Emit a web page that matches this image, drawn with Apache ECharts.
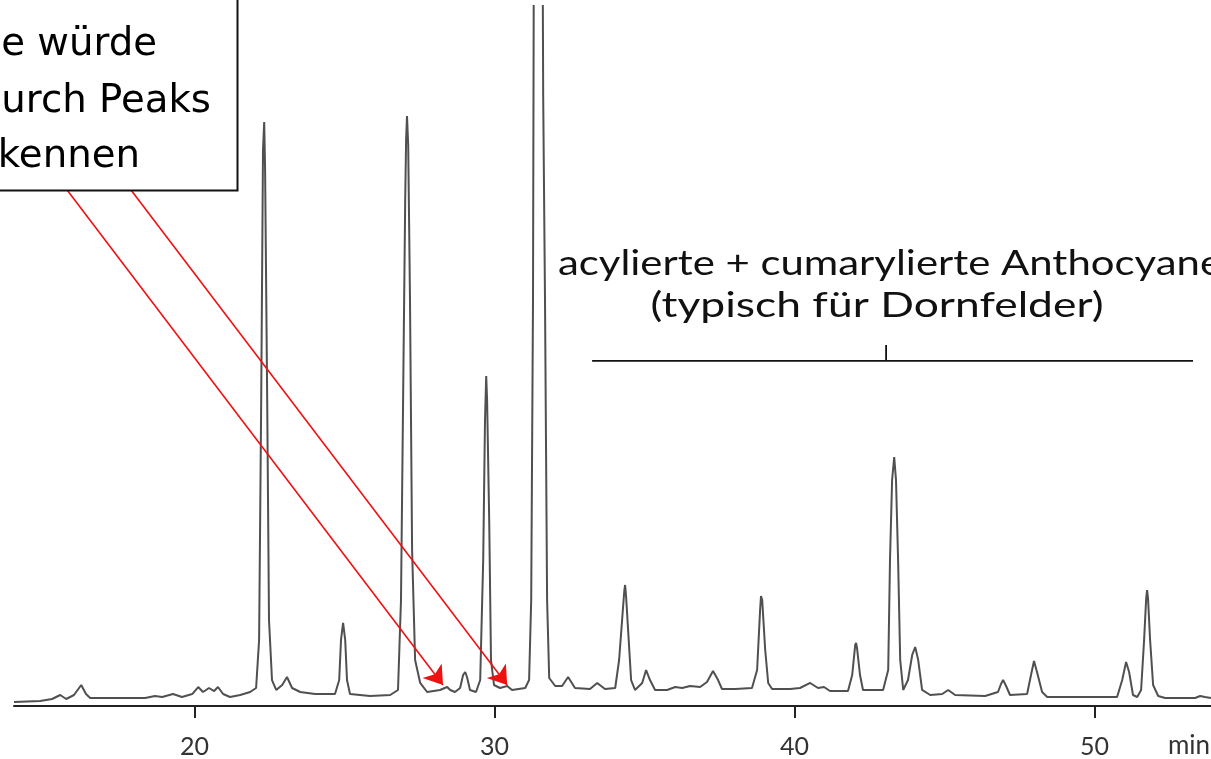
<!DOCTYPE html>
<html>
<head>
<meta charset="utf-8">
<script src="https://cdn.jsdelivr.net/npm/echarts@6/dist/echarts.min.js"></script>
<style>
	html, body { margin: 0; padding: 0; background: #fff; }
	#chart { width: 1211px; height: 759px; }
</style>
</head>
<body>
<div id="chart"></div>
<script>
// retention time (min) and detector signal (scaled 0..100)
const time = [
	13.98, 14.85, 15.25, 15.52, 15.72, 15.98, 16.22, 16.38, 16.52, 18.35,
	18.68, 18.92, 19.28, 19.58, 19.92, 20.12, 20.28, 20.48, 20.65, 20.78,
	20.95, 21.18, 21.52, 21.85, 22.05, 22.15, 22.22, 22.28, 22.32, 22.35,
	22.42, 22.48, 22.58, 22.72, 22.92, 23.08, 23.25, 23.52, 24.02, 24.68,
	24.82, 24.88, 24.95, 25.02, 25.08, 25.18, 25.85, 26.52, 26.78, 26.88,
	26.95, 27.02, 27.05, 27.08, 27.12, 27.18, 27.25, 27.35, 27.52, 27.75,
	28.18, 28.42, 28.52, 28.68, 28.85, 28.95, 29.02, 29.08, 29.18, 29.38,
	29.52, 29.62, 29.68, 29.72, 29.75, 29.82, 29.88, 29.98, 30.18, 30.42,
	30.58, 31.02, 31.15, 31.22, 31.28, 31.32, 31.58, 31.62, 31.68, 31.75,
	31.82, 32.02, 32.25, 32.45, 32.68, 33.18, 33.42, 33.68, 34.02, 34.15,
	34.25, 34.32, 34.35, 34.38, 34.45, 34.55, 34.68, 34.92, 35.05, 35.18,
	35.35, 35.75, 36.02, 36.25, 36.52, 36.85, 37.08, 37.28, 37.45, 37.58,
	38.02, 38.58, 38.75, 38.85, 38.88, 38.92, 39.02, 39.12, 39.25, 39.85,
	40.18, 40.52, 40.78, 40.98, 41.18, 41.78, 41.92, 42.02, 42.05, 42.08,
	42.18, 42.28, 42.95, 43.12, 43.18, 43.25, 43.32, 43.38, 43.45, 43.52,
	43.62, 43.78, 43.92, 44.02, 44.12, 44.25, 44.52, 44.92, 45.12, 45.35,
	46.35, 46.78, 46.88, 46.95, 47.05, 47.18, 47.75, 47.88, 47.98, 48.08,
	48.25, 48.42, 50.75, 50.92, 51.05, 51.15, 51.28, 51.42, 51.55, 51.65,
	51.72, 51.75, 51.78, 51.85, 51.95, 52.12, 52.35, 53.35, 53.52, 53.68,
	53.88
];
const signal = [
	0.57, 0.71, 1.0, 1.57, 1.0, 1.57, 3.0, 1.71, 1.14, 1.14,
	1.43, 1.29, 1.71, 1.29, 1.71, 2.71, 2.0, 2.57, 2.14, 2.71,
	1.71, 1.29, 1.57, 2.0, 2.57, 9.43, 43.71, 79.43, 83.43, 76.57,
	43.71, 12.29, 3.71, 2.29, 3.0, 4.14, 2.57, 2.0, 1.71, 1.71,
	3.71, 9.43, 11.86, 9.43, 3.71, 1.71, 1.43, 1.57, 2.29, 15.14,
	43.71, 72.29, 80.86, 84.29, 80.14, 58.0, 22.29, 6.57, 3.29, 2.0,
	2.29, 2.71, 2.29, 2.0, 2.57, 4.43, 4.86, 4.14, 2.29, 2.0,
	3.71, 20.86, 40.86, 47.14, 43.71, 26.57, 6.57, 3.0, 2.57, 2.86,
	2.29, 2.57, 3.71, 15.14, 58.0, 130, 130, 87.0, 58.0, 15.14,
	4.0, 2.86, 2.86, 4.14, 2.57, 2.43, 3.29, 2.43, 2.57, 6.57,
	12.29, 16.29, 17.29, 15.86, 10.86, 3.71, 2.29, 3.29, 5.14, 3.71,
	2.29, 2.29, 2.71, 2.57, 2.86, 2.71, 3.43, 5.0, 3.71, 2.43,
	2.43, 2.57, 5.14, 13.71, 15.71, 15.14, 8.0, 3.29, 2.43, 2.43,
	2.57, 3.29, 2.57, 2.71, 2.14, 2.14, 4.43, 8.71, 9.0, 8.29,
	4.43, 2.29, 2.29, 5.14, 20.86, 32.29, 35.57, 32.29, 20.86, 6.57,
	2.29, 3.71, 7.29, 8.43, 6.57, 2.29, 1.57, 1.71, 2.29, 1.57,
	1.43, 2.0, 3.14, 3.71, 2.86, 1.57, 1.71, 4.43, 6.43, 4.86,
	2.0, 1.29, 1.29, 3.71, 6.29, 4.86, 1.57, 1.29, 2.29, 9.43,
	15.43, 16.57, 15.43, 9.43, 3.0, 1.43, 1.14, 1.14, 1.43, 1.29,
	1.14
];
const tickValues = [20, 30, 40, 50];

// bracket over the acylated / coumaroylated anthocyanins
const bracketFrom = [33.25, 49.29];
const bracketTo = [53.28, 49.29];
const bracketMid = [[43.05, 49.29], [43.05, 51.57]];

// red arrows from the note box to the small peaks
const arrowStarts = [[15.75, 73.71], [17.88, 73.71]];
const arrowEnds = [[28.28, 3.0], [30.42, 3.0]];

const boxLines = ['e würde', 'urch Peaks', 'kennen'];
const noteLines = ['acylierte + cumarylierte Anthocyane', '(typisch für Dornfelder)'];

const measureCtx = document.createElement('canvas').getContext('2d');
function textWidth(text, font) {
	measureCtx.font = font;
	return measureCtx.measureText(text).width;
}

const boxFont = '"DejaVu Sans"';
const boxSize = 100 * 210 / textWidth(boxLines[1], '100px ' + boxFont);

// both note lines share one font size, squeezed horizontally to their width
const noteFont = '39px Lato';
const noteScale1 = 664 / textWidth(noteLines[0], noteFont);
const noteScale2 = 453 / textWidth(noteLines[1], noteFont);

const chart = echarts.init(document.getElementById('chart'));

const option = {
	animation: false,
	backgroundColor: '#fff',
	grid: { left: 14, right: 0, top: 6, bottom: 53 },
	xAxis: {
		type: 'value',
		min: 13.98,
		max: 53.88,
		splitLine: { show: false },
		axisLine: { lineStyle: { color: '#222', width: 2 } },
		axisTick: { customValues: tickValues, length: 12, lineStyle: { color: '#222', width: 2 } },
		axisLabel: {
			customValues: tickValues,
			margin: 28,
			color: '#333',
			fontFamily: 'Lato',
			fontSize: 25
		}
	},
	yAxis: { type: 'value', min: 0, max: 100, show: false },
	series: [
		{
			type: 'line',
			data: time.map((t, i) => [t, signal[i]]),
			showSymbol: false,
			clip: true,
			lineStyle: { color: '#505050', width: 2 },
			z: 3
		},
		{
			type: 'line',
			data: [bracketFrom, bracketTo],
			showSymbol: false,
			lineStyle: { color: '#111', width: 1.8 }
		},
		{
			type: 'line',
			data: bracketMid,
			showSymbol: false,
			lineStyle: { color: '#111', width: 1.8 }
		},
		{
			type: 'lines',
			coordinateSystem: 'cartesian2d',
			symbol: ['none', 'arrow'],
			symbolSize: 18,
			lineStyle: { color: '#ee1111', width: 1.6, opacity: 1 },
			data: arrowStarts.map((s, i) => ({ coords: [s, arrowEnds[i]] })),
			z: 5
		}
	],
	graphic: [
		{
			type: 'rect',
			shape: { x: -10, y: -10, width: 247.5, height: 200.5 },
			style: { fill: '#fff', stroke: '#111', lineWidth: 2 },
			z: 10
		},
		{
			type: 'text', x: 157, y: 45, z: 11,
			style: { text: boxLines[0], align: 'right', verticalAlign: 'middle', font: boxSize.toFixed(1) + 'px ' + boxFont, fill: '#000' }
		},
		{
			type: 'text', x: 211, y: 102, z: 11,
			style: { text: boxLines[1], align: 'right', verticalAlign: 'middle', font: boxSize.toFixed(1) + 'px ' + boxFont, fill: '#000' }
		},
		{
			type: 'text', x: 140, y: 157, z: 11,
			style: { text: boxLines[2], align: 'right', verticalAlign: 'middle', font: boxSize.toFixed(1) + 'px ' + boxFont, fill: '#000' }
		},
		{
			type: 'text', x: 558, y: 264, z: 11, scaleX: noteScale1, scaleY: 0.9,
			style: { text: noteLines[0], align: 'left', verticalAlign: 'middle', font: noteFont, fill: '#111' }
		},
		{
			type: 'text', x: 877, y: 306, z: 11, scaleX: noteScale2, scaleY: 0.9,
			style: { text: noteLines[1], align: 'center', verticalAlign: 'middle', font: noteFont, fill: '#111' }
		},
		{
			type: 'text', x: 1189, y: 746, z: 11,
			style: { text: 'min', align: 'center', verticalAlign: 'middle', font: '26px Lato', fill: '#333' }
		}
	]
};

chart.setOption(option);
</script>
</body>
</html>
